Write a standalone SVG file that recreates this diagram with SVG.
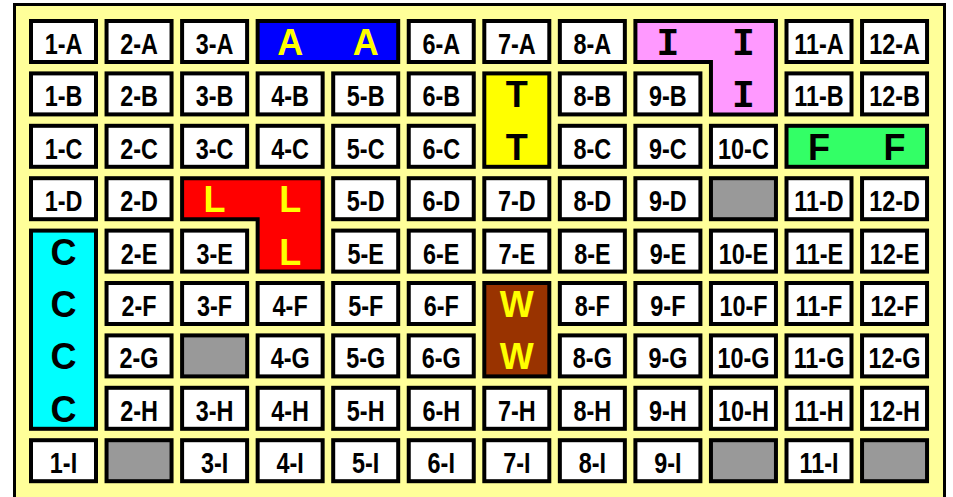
<svg xmlns="http://www.w3.org/2000/svg" width="953" height="497" viewBox="0 0 953 497">
<style>
.frame{fill:#FFFF99;stroke:#000;stroke-width:3}
.cell{fill:#fff;stroke:#000;stroke-width:4}
.gray{fill:#999999;stroke:#000;stroke-width:4}
.blk{stroke:#000;stroke-width:4;stroke-linejoin:miter}
.lbl{font-family:"Liberation Sans",Arial,sans-serif;font-size:30px;font-weight:bold;fill:#000;text-anchor:middle;transform-box:fill-box;transform-origin:center;transform:scaleX(0.78)}
.big{font-family:"Liberation Sans",Arial,sans-serif;font-size:36px;font-weight:bold;text-anchor:middle}
.bigI{font-family:"Liberation Mono","Courier New",monospace;font-size:38px;font-weight:bold;text-anchor:middle}
.ylw{fill:#FFFF00}
.blkT{fill:#000}
</style>
<defs>
<rect id="box" x="2" y="2" width="65" height="41"/>
</defs>
<rect class="frame" x="14.5" y="4.5" width="930" height="500"/>

<!-- merged blocks -->
<g id="blockA">
<rect class="blk" fill="#0000FF" x="257.65" y="21" width="140.55" height="41"/>
<text class="big ylw" x="290.15" y="55">A</text>
<text class="big ylw" x="365.7" y="55">A</text>
</g>
<g id="blockI">
<path class="blk" fill="#FF99FF" d="M635.4,21H775.95V114.4H710.95V62H635.4Z"/>
<text class="bigI blkT" x="667.9" y="55">I</text>
<text class="bigI blkT" x="743.45" y="55">I</text>
<text class="bigI blkT" x="743.45" y="107.4">I</text>
</g>
<g id="blockT">
<rect class="blk" fill="#FFFF00" x="484.3" y="73.4" width="65" height="93.4"/>
<text class="big blkT" x="516.8" y="107.4">T</text>
<text class="big blkT" x="516.8" y="159.8">T</text>
</g>
<g id="blockF">
<rect class="blk" fill="#33FF66" x="786.5" y="125.8" width="140.55" height="41"/>
<text class="big blkT" x="819" y="159.8">F</text>
<text class="big blkT" x="894.55" y="159.8">F</text>
</g>
<g id="blockL">
<path class="blk" fill="#FF0000" d="M182.1,178.2H322.65V271.6H257.65V219.2H182.1Z"/>
<text class="big ylw" x="214.6" y="212.2">L</text>
<text class="big ylw" x="290.15" y="212.2">L</text>
<text class="big ylw" x="290.15" y="264.6">L</text>
</g>
<g id="blockC">
<rect class="blk" fill="#00FFFF" x="31" y="230.6" width="65" height="198.2"/>
<text class="big blkT" x="63.5" y="264.6">C</text>
<text class="big blkT" x="63.5" y="317">C</text>
<text class="big blkT" x="63.5" y="369.4">C</text>
<text class="big blkT" x="63.5" y="421.8">C</text>
</g>
<g id="blockW">
<rect class="blk" fill="#993300" x="484.3" y="283" width="65" height="93.4"/>
<text class="big ylw" x="516.8" y="317">W</text>
<text class="big ylw" x="516.8" y="369.4">W</text>
</g>

<!-- row A -->
<g id="n1A" transform="translate(29,19)"><use href="#box" class="cell"/><text class="lbl" x="34.5" y="35">1-A</text></g>
<g id="n2A" transform="translate(104.55,19)"><use href="#box" class="cell"/><text class="lbl" x="34.5" y="35">2-A</text></g>
<g id="n3A" transform="translate(180.1,19)"><use href="#box" class="cell"/><text class="lbl" x="34.5" y="35">3-A</text></g>
<g id="n6A" transform="translate(406.75,19)"><use href="#box" class="cell"/><text class="lbl" x="34.5" y="35">6-A</text></g>
<g id="n7A" transform="translate(482.3,19)"><use href="#box" class="cell"/><text class="lbl" x="34.5" y="35">7-A</text></g>
<g id="n8A" transform="translate(557.85,19)"><use href="#box" class="cell"/><text class="lbl" x="34.5" y="35">8-A</text></g>
<g id="n11A" transform="translate(784.5,19)"><use href="#box" class="cell"/><text class="lbl" x="34.5" y="35">11-A</text></g>
<g id="n12A" transform="translate(860.05,19)"><use href="#box" class="cell"/><text class="lbl" x="34.5" y="35">12-A</text></g>

<!-- row B -->
<g id="n1B" transform="translate(29,71.4)"><use href="#box" class="cell"/><text class="lbl" x="34.5" y="35">1-B</text></g>
<g id="n2B" transform="translate(104.55,71.4)"><use href="#box" class="cell"/><text class="lbl" x="34.5" y="35">2-B</text></g>
<g id="n3B" transform="translate(180.1,71.4)"><use href="#box" class="cell"/><text class="lbl" x="34.5" y="35">3-B</text></g>
<g id="n4B" transform="translate(255.65,71.4)"><use href="#box" class="cell"/><text class="lbl" x="34.5" y="35">4-B</text></g>
<g id="n5B" transform="translate(331.2,71.4)"><use href="#box" class="cell"/><text class="lbl" x="34.5" y="35">5-B</text></g>
<g id="n6B" transform="translate(406.75,71.4)"><use href="#box" class="cell"/><text class="lbl" x="34.5" y="35">6-B</text></g>
<g id="n8B" transform="translate(557.85,71.4)"><use href="#box" class="cell"/><text class="lbl" x="34.5" y="35">8-B</text></g>
<g id="n9B" transform="translate(633.4,71.4)"><use href="#box" class="cell"/><text class="lbl" x="34.5" y="35">9-B</text></g>
<g id="n11B" transform="translate(784.5,71.4)"><use href="#box" class="cell"/><text class="lbl" x="34.5" y="35">11-B</text></g>
<g id="n12B" transform="translate(860.05,71.4)"><use href="#box" class="cell"/><text class="lbl" x="34.5" y="35">12-B</text></g>

<!-- row C -->
<g id="n1C" transform="translate(29,123.8)"><use href="#box" class="cell"/><text class="lbl" x="34.5" y="35">1-C</text></g>
<g id="n2C" transform="translate(104.55,123.8)"><use href="#box" class="cell"/><text class="lbl" x="34.5" y="35">2-C</text></g>
<g id="n3C" transform="translate(180.1,123.8)"><use href="#box" class="cell"/><text class="lbl" x="34.5" y="35">3-C</text></g>
<g id="n4C" transform="translate(255.65,123.8)"><use href="#box" class="cell"/><text class="lbl" x="34.5" y="35">4-C</text></g>
<g id="n5C" transform="translate(331.2,123.8)"><use href="#box" class="cell"/><text class="lbl" x="34.5" y="35">5-C</text></g>
<g id="n6C" transform="translate(406.75,123.8)"><use href="#box" class="cell"/><text class="lbl" x="34.5" y="35">6-C</text></g>
<g id="n8C" transform="translate(557.85,123.8)"><use href="#box" class="cell"/><text class="lbl" x="34.5" y="35">8-C</text></g>
<g id="n9C" transform="translate(633.4,123.8)"><use href="#box" class="cell"/><text class="lbl" x="34.5" y="35">9-C</text></g>
<g id="n10C" transform="translate(708.95,123.8)"><use href="#box" class="cell"/><text class="lbl" x="34.5" y="35">10-C</text></g>

<!-- row D -->
<g id="n1D" transform="translate(29,176.2)"><use href="#box" class="cell"/><text class="lbl" x="34.5" y="35">1-D</text></g>
<g id="n2D" transform="translate(104.55,176.2)"><use href="#box" class="cell"/><text class="lbl" x="34.5" y="35">2-D</text></g>
<g id="n5D" transform="translate(331.2,176.2)"><use href="#box" class="cell"/><text class="lbl" x="34.5" y="35">5-D</text></g>
<g id="n6D" transform="translate(406.75,176.2)"><use href="#box" class="cell"/><text class="lbl" x="34.5" y="35">6-D</text></g>
<g id="n7D" transform="translate(482.3,176.2)"><use href="#box" class="cell"/><text class="lbl" x="34.5" y="35">7-D</text></g>
<g id="n8D" transform="translate(557.85,176.2)"><use href="#box" class="cell"/><text class="lbl" x="34.5" y="35">8-D</text></g>
<g id="n9D" transform="translate(633.4,176.2)"><use href="#box" class="cell"/><text class="lbl" x="34.5" y="35">9-D</text></g>
<g id="n10D" transform="translate(708.95,176.2)"><use href="#box" class="gray"/></g>
<g id="n11D" transform="translate(784.5,176.2)"><use href="#box" class="cell"/><text class="lbl" x="34.5" y="35">11-D</text></g>
<g id="n12D" transform="translate(860.05,176.2)"><use href="#box" class="cell"/><text class="lbl" x="34.5" y="35">12-D</text></g>

<!-- row E -->
<g id="n2E" transform="translate(104.55,228.6)"><use href="#box" class="cell"/><text class="lbl" x="34.5" y="35">2-E</text></g>
<g id="n3E" transform="translate(180.1,228.6)"><use href="#box" class="cell"/><text class="lbl" x="34.5" y="35">3-E</text></g>
<g id="n5E" transform="translate(331.2,228.6)"><use href="#box" class="cell"/><text class="lbl" x="34.5" y="35">5-E</text></g>
<g id="n6E" transform="translate(406.75,228.6)"><use href="#box" class="cell"/><text class="lbl" x="34.5" y="35">6-E</text></g>
<g id="n7E" transform="translate(482.3,228.6)"><use href="#box" class="cell"/><text class="lbl" x="34.5" y="35">7-E</text></g>
<g id="n8E" transform="translate(557.85,228.6)"><use href="#box" class="cell"/><text class="lbl" x="34.5" y="35">8-E</text></g>
<g id="n9E" transform="translate(633.4,228.6)"><use href="#box" class="cell"/><text class="lbl" x="34.5" y="35">9-E</text></g>
<g id="n10E" transform="translate(708.95,228.6)"><use href="#box" class="cell"/><text class="lbl" x="34.5" y="35">10-E</text></g>
<g id="n11E" transform="translate(784.5,228.6)"><use href="#box" class="cell"/><text class="lbl" x="34.5" y="35">11-E</text></g>
<g id="n12E" transform="translate(860.05,228.6)"><use href="#box" class="cell"/><text class="lbl" x="34.5" y="35">12-E</text></g>

<!-- row F -->
<g id="n2F" transform="translate(104.55,281)"><use href="#box" class="cell"/><text class="lbl" x="34.5" y="35">2-F</text></g>
<g id="n3F" transform="translate(180.1,281)"><use href="#box" class="cell"/><text class="lbl" x="34.5" y="35">3-F</text></g>
<g id="n4F" transform="translate(255.65,281)"><use href="#box" class="cell"/><text class="lbl" x="34.5" y="35">4-F</text></g>
<g id="n5F" transform="translate(331.2,281)"><use href="#box" class="cell"/><text class="lbl" x="34.5" y="35">5-F</text></g>
<g id="n6F" transform="translate(406.75,281)"><use href="#box" class="cell"/><text class="lbl" x="34.5" y="35">6-F</text></g>
<g id="n8F" transform="translate(557.85,281)"><use href="#box" class="cell"/><text class="lbl" x="34.5" y="35">8-F</text></g>
<g id="n9F" transform="translate(633.4,281)"><use href="#box" class="cell"/><text class="lbl" x="34.5" y="35">9-F</text></g>
<g id="n10F" transform="translate(708.95,281)"><use href="#box" class="cell"/><text class="lbl" x="34.5" y="35">10-F</text></g>
<g id="n11F" transform="translate(784.5,281)"><use href="#box" class="cell"/><text class="lbl" x="34.5" y="35">11-F</text></g>
<g id="n12F" transform="translate(860.05,281)"><use href="#box" class="cell"/><text class="lbl" x="34.5" y="35">12-F</text></g>

<!-- row G -->
<g id="n2G" transform="translate(104.55,333.4)"><use href="#box" class="cell"/><text class="lbl" x="34.5" y="35">2-G</text></g>
<g id="n3G" transform="translate(180.1,333.4)"><use href="#box" class="gray"/></g>
<g id="n4G" transform="translate(255.65,333.4)"><use href="#box" class="cell"/><text class="lbl" x="34.5" y="35">4-G</text></g>
<g id="n5G" transform="translate(331.2,333.4)"><use href="#box" class="cell"/><text class="lbl" x="34.5" y="35">5-G</text></g>
<g id="n6G" transform="translate(406.75,333.4)"><use href="#box" class="cell"/><text class="lbl" x="34.5" y="35">6-G</text></g>
<g id="n8G" transform="translate(557.85,333.4)"><use href="#box" class="cell"/><text class="lbl" x="34.5" y="35">8-G</text></g>
<g id="n9G" transform="translate(633.4,333.4)"><use href="#box" class="cell"/><text class="lbl" x="34.5" y="35">9-G</text></g>
<g id="n10G" transform="translate(708.95,333.4)"><use href="#box" class="cell"/><text class="lbl" x="34.5" y="35">10-G</text></g>
<g id="n11G" transform="translate(784.5,333.4)"><use href="#box" class="cell"/><text class="lbl" x="34.5" y="35">11-G</text></g>
<g id="n12G" transform="translate(860.05,333.4)"><use href="#box" class="cell"/><text class="lbl" x="34.5" y="35">12-G</text></g>

<!-- row H -->
<g id="n2H" transform="translate(104.55,385.8)"><use href="#box" class="cell"/><text class="lbl" x="34.5" y="35">2-H</text></g>
<g id="n3H" transform="translate(180.1,385.8)"><use href="#box" class="cell"/><text class="lbl" x="34.5" y="35">3-H</text></g>
<g id="n4H" transform="translate(255.65,385.8)"><use href="#box" class="cell"/><text class="lbl" x="34.5" y="35">4-H</text></g>
<g id="n5H" transform="translate(331.2,385.8)"><use href="#box" class="cell"/><text class="lbl" x="34.5" y="35">5-H</text></g>
<g id="n6H" transform="translate(406.75,385.8)"><use href="#box" class="cell"/><text class="lbl" x="34.5" y="35">6-H</text></g>
<g id="n7H" transform="translate(482.3,385.8)"><use href="#box" class="cell"/><text class="lbl" x="34.5" y="35">7-H</text></g>
<g id="n8H" transform="translate(557.85,385.8)"><use href="#box" class="cell"/><text class="lbl" x="34.5" y="35">8-H</text></g>
<g id="n9H" transform="translate(633.4,385.8)"><use href="#box" class="cell"/><text class="lbl" x="34.5" y="35">9-H</text></g>
<g id="n10H" transform="translate(708.95,385.8)"><use href="#box" class="cell"/><text class="lbl" x="34.5" y="35">10-H</text></g>
<g id="n11H" transform="translate(784.5,385.8)"><use href="#box" class="cell"/><text class="lbl" x="34.5" y="35">11-H</text></g>
<g id="n12H" transform="translate(860.05,385.8)"><use href="#box" class="cell"/><text class="lbl" x="34.5" y="35">12-H</text></g>

<!-- row I -->
<g id="n1I" transform="translate(29,438.2)"><use href="#box" class="cell"/><text class="lbl" x="34.5" y="35">1-I</text></g>
<g id="n2I" transform="translate(104.55,438.2)"><use href="#box" class="gray"/></g>
<g id="n3I" transform="translate(180.1,438.2)"><use href="#box" class="cell"/><text class="lbl" x="34.5" y="35">3-I</text></g>
<g id="n4I" transform="translate(255.65,438.2)"><use href="#box" class="cell"/><text class="lbl" x="34.5" y="35">4-I</text></g>
<g id="n5I" transform="translate(331.2,438.2)"><use href="#box" class="cell"/><text class="lbl" x="34.5" y="35">5-I</text></g>
<g id="n6I" transform="translate(406.75,438.2)"><use href="#box" class="cell"/><text class="lbl" x="34.5" y="35">6-I</text></g>
<g id="n7I" transform="translate(482.3,438.2)"><use href="#box" class="cell"/><text class="lbl" x="34.5" y="35">7-I</text></g>
<g id="n8I" transform="translate(557.85,438.2)"><use href="#box" class="cell"/><text class="lbl" x="34.5" y="35">8-I</text></g>
<g id="n9I" transform="translate(633.4,438.2)"><use href="#box" class="cell"/><text class="lbl" x="34.5" y="35">9-I</text></g>
<g id="n10I" transform="translate(708.95,438.2)"><use href="#box" class="gray"/></g>
<g id="n11I" transform="translate(784.5,438.2)"><use href="#box" class="cell"/><text class="lbl" x="34.5" y="35">11-I</text></g>
<g id="n12I" transform="translate(860.05,438.2)"><use href="#box" class="gray"/></g>
</svg>
